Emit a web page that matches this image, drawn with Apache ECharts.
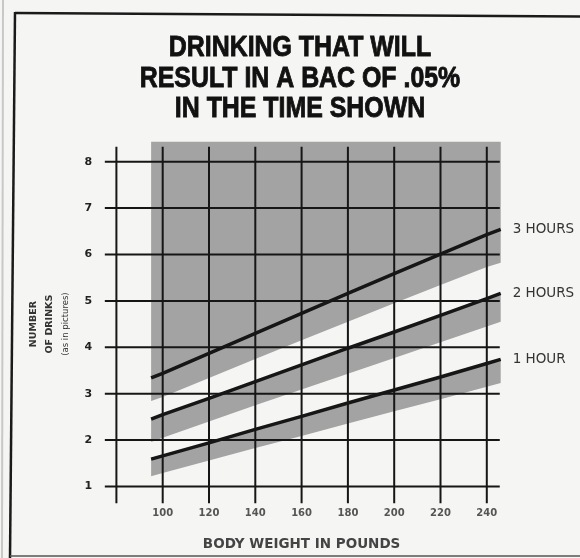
<!DOCTYPE html>
<html>
<head>
<meta charset="utf-8">
<script src="https://cdn.jsdelivr.net/npm/echarts@6/dist/echarts.min.js"></script>
<style>
  html, body { margin: 0; padding: 0; background: #f5f5f3; }
  #chart { width: 580px; height: 558px; }
</style>
</head>
<body>
<div id="chart"></div>
<script>
// Body weight (lb) at which each curve is read
const weights = [95, 100, 120, 140, 160, 180, 200, 220, 240, 246];

// Number of drinks giving a BAC of .05% within the time shown
const threeHours = [3.34, 3.44, 3.87, 4.30, 4.73, 5.16, 5.59, 6.01, 6.43, 6.54];
const twoHours   = [2.45, 2.55, 2.90, 3.26, 3.62, 3.98, 4.33, 4.69, 5.05, 5.16];
const oneHour    = [1.59, 1.66, 1.94, 2.23, 2.51, 2.80, 3.08, 3.36, 3.65, 3.74];

// Lower edge of the grey band under each curve
const threeHoursLow = [2.84, 2.93, 3.34, 3.75, 4.15, 4.55, 4.95, 5.34, 5.73, 5.82];
const twoHoursLow   = [1.96, 2.05, 2.40, 2.75, 3.09, 3.43, 3.77, 4.11, 4.45, 4.55];
const oneHourLow    = [1.22, 1.29, 1.56, 1.83, 2.09, 2.36, 2.62, 2.88, 3.15, 3.23];

// Top of the shaded field
const shadeTop = 8.43;

// Tick labels
const xTickLabels = [100, 120, 140, 160, 180, 200, 220, 240];
const yTickLabels = [1, 2, 3, 4, 5, 6, 7, 8];
// Vertical rules (one extra at 80, unlabelled)
const xRules = [80, 100, 120, 140, 160, 180, 200, 220, 240];

// Extent of the ruled grid, in data units
const ruleLeft = 75, ruleRight = 245.6, ruleBottom = 0.64, ruleTop = 8.32;

const titleText = 'DRINKING THAT WILL\nRESULT IN A BAC OF .05%\nIN THE TIME SHOWN';

const INK = '#161616';
const SHADE = '#a3a3a3';

function band(upper, lower) {
  return {
    type: 'custom',
    silent: true,
    z: 1,
    data: [0],
    renderItem: function (params, api) {
      const pts = [];
      for (let i = 0; i < weights.length; i++) pts.push(api.coord([weights[i], upper[i]]));
      for (let i = weights.length - 1; i >= 0; i--) pts.push(api.coord([weights[i], lower[i]]));
      return { type: 'polygon', shape: { points: pts }, style: { fill: SHADE } };
    }
  };
}

function curve(name, values) {
  return {
    type: 'line',
    name: name,
    z: 5,
    silent: true,
    symbol: 'none',
    data: weights.map((w, i) => [w, values[i]]),
    lineStyle: { color: INK, width: 3.5 },
    endLabel: {
      show: true,
      formatter: name,
      distance: 12,
      fontFamily: 'DejaVu Sans',
      fontSize: 13.5,
      color: '#333'
    }
  };
}

const chart = echarts.init(document.getElementById('chart'), null, { renderer: 'canvas' });

chart.setOption({
  animation: false,
  backgroundColor: '#f5f5f3',
  grid: { left: 93.25, right: 70.05, top: 138.5, bottom: 48.3 },
  xAxis: {
    type: 'value',
    min: 70,
    max: 250,
    axisLine: { show: false },
    axisTick: { show: false },
    splitLine: { show: false },
    axisLabel: {
      customValues: xTickLabels,
      margin: -1,
      fontFamily: 'DejaVu Sans',
      fontWeight: 'bold',
      fontSize: 10,
      color: '#555'
    },
    name: 'BODY WEIGHT IN POUNDS',
    nameLocation: 'middle',
    nameGap: 28,
    nameTextStyle: {
      fontFamily: 'DejaVu Sans',
      fontWeight: 'bold',
      fontSize: 13.5,
      color: '#444'
    }
  },
  yAxis: {
    type: 'value',
    min: 0.5,
    max: 8.5,
    axisLine: { show: false },
    axisTick: { show: false },
    splitLine: { show: false },
    axisLabel: {
      customValues: yTickLabels,
      margin: 1,
      fontFamily: 'DejaVu Sans',
      fontWeight: 'bold',
      fontSize: 11,
      color: '#222'
    },
    name: '{a|NUMBER}\n{a|OF DRINKS}\n{b|(as in pictures)}',
    nameLocation: 'middle',
    nameRotate: 90,
    nameGap: 16,
    nameTextStyle: {
      lineHeight: 16,
      rich: {
        a: { fontFamily: 'DejaVu Sans', fontWeight: 'bold', fontSize: 9.5, color: '#333', lineHeight: 16 },
        b: { fontFamily: 'DejaVu Sans', fontSize: 8.5, color: '#333', lineHeight: 16 }
      }
    }
  },
  series: [
    // shaded field above the three-hour band, then the bands under each curve
    band(weights.map(() => shadeTop), threeHoursLow),
    band(twoHours, twoHoursLow),
    band(oneHour, oneHourLow),
    // horizontal rules
    {
      type: 'custom',
      silent: true,
      z: 3,
      data: yTickLabels,
      renderItem: function (params, api) {
        const v = api.value(0);
        const a = api.coord([ruleLeft, v]);
        const b = api.coord([ruleRight, v]);
        return { type: 'line', shape: { x1: a[0], y1: a[1], x2: b[0], y2: b[1] }, style: { stroke: INK, lineWidth: 2 } };
      }
    },
    // vertical rules
    {
      type: 'custom',
      silent: true,
      z: 3,
      data: xRules,
      renderItem: function (params, api) {
        const v = api.value(0);
        const a = api.coord([v, ruleBottom]);
        const b = api.coord([v, ruleTop]);
        return { type: 'line', shape: { x1: a[0], y1: a[1], x2: b[0], y2: b[1] }, style: { stroke: INK, lineWidth: 2 } };
      }
    },
    curve('3 HOURS', threeHours),
    curve('2 HOURS', twoHours),
    curve('1 HOUR', oneHour)
  ],
  graphic: [
    // headline, set in a narrowed heavy sans
    {
      type: 'text',
      x: 300,
      y: 32.5,
      scaleX: 0.83,
      style: {
        text: titleText,
        textAlign: 'center',
        textVerticalAlign: 'top',
        font: 'bold 30px "Liberation Sans", Arial, sans-serif',
        lineHeight: 30.5,
        fill: '#111',
        stroke: '#111',
        lineWidth: 0.9
      }
    },
    // printed frame around the panel
    { type: 'line', shape: { x1: 15, y1: 13, x2: 580, y2: 16.5 }, style: { stroke: '#1a1a1a', lineWidth: 2.5 } },
    { type: 'line', shape: { x1: 15, y1: 12, x2: 10, y2: 558 }, style: { stroke: '#1a1a1a', lineWidth: 2.5 } },
    { type: 'line', shape: { x1: 10, y1: 556, x2: 580, y2: 556 }, style: { stroke: '#555', lineWidth: 1.5 } },
    { type: 'line', shape: { x1: 3, y1: 0, x2: 2, y2: 558 }, style: { stroke: '#c8c8c8', lineWidth: 2 } }
  ]
});
</script>
</body>
</html>
